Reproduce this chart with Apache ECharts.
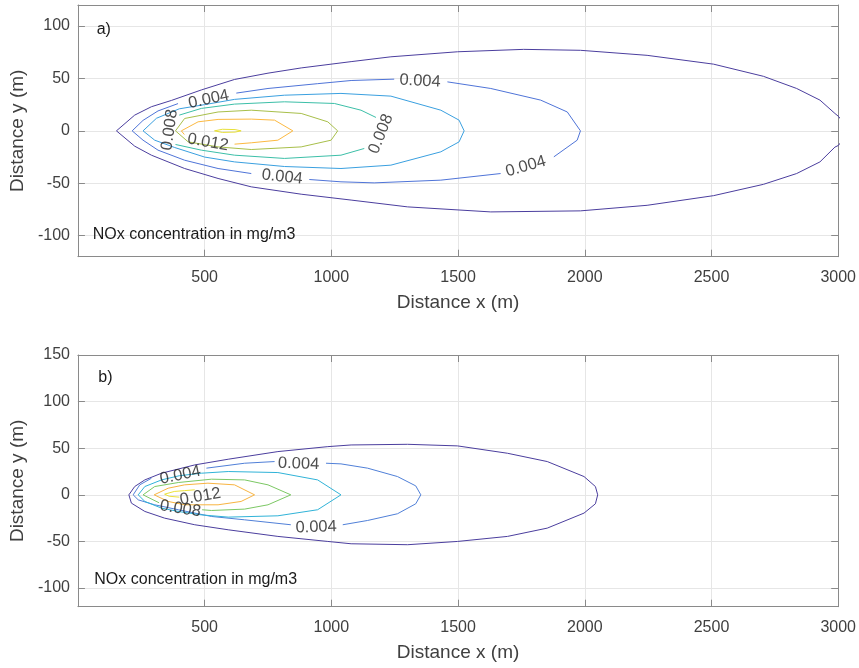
<!DOCTYPE html>
<html>
<head>
<meta charset="utf-8">
<script src="https://cdn.jsdelivr.net/npm/echarts@6/dist/echarts.min.js"></script>
<style>
html,body{margin:0;padding:0;background:#fff;}
#chart{width:859px;height:668px;}
</style>
</head>
<body>
<div id="chart"></div>
<script>
// ---------- data ----------
const xTicks = [500, 1000, 1500, 2000, 2500, 3000];
const yTicksTop = [-100, -50, 0, 50, 100];
const yTicksBottom = [-100, -50, 0, 50, 100, 150];
const levelsTop = ['0.002', '0.004', '0.006', '0.008', '0.010', '0.012', '0.014'];
const levelsBottom = ['0.002', '0.004', '0.006', '0.008', '0.010', '0.012'];

// Panel a) contour lines, [x, y] in metres; null = gap where the label sits
const topC002 = [[152,0],[224,15],[290,23],[369,29],[487,39],[618,49],[750,55],[881,60],[1078,66],[1235,70.6],[1498,75.4],[1759,77.7],[1983,76.8],[2246,72],[2508,63.6],[2705,52],[2836,40.4],[2928,29.3],[2987,16.6],[3000,14],[3050,0],[3000,-14],[2987,-15.5],[2928,-29.6],[2836,-40.7],[2705,-51],[2508,-61.8],[2246,-71],[1983,-76.3],[1629,-77.3],[1301,-72.5],[1078,-66],[881,-60.4],[684,-53.4],[553,-45.4],[421,-35.9],[290,-23.2],[224,-14.6],[152,0]];
const topC004 = [[214,0],[257,10],[316,19],[395,26],null,[625,36],[750,40.4],[946,45],[1078,48],[1248,49.3],null,[1458,46.7],[1629,40.4],[1826,29.3],[1931,18],[1983,0],[1970,-8.9],[1878,-24.8],null,[1668,-40.7],[1432,-47],[1169,-49.6],[1038,-48.6],[913,-46.4],null,[684,-40.7],[553,-35.9],[421,-28],[316,-18.4],[257,-8.9],[214,0]];
const topC006 = [[257,0],[310,12],[400,21],[500,25],[618,30],[815,34],[1038,35.7],[1235,33.1],[1432,19.7],[1504,10.2],[1524,0],[1504,-10.5],[1432,-20],[1235,-32.7],[1038,-35.9],[815,-34],[618,-29.6],[500,-25],[382,-15.9],[303,-8.9],[257,0]];
const topC008 = [[400,15],[487,21.4],[618,25.5],[815,27.7],[1012,26.1],[1117,19.7],[1176,12.8],null,[1130,-16.8],[1038,-23.2],[815,-26.3],[618,-23.2],[487,-18.4],[385,-13]];
const topC010 = [[385,0],[421,11.8],[553,18],[684,19.7],[881,16.6],[986,8.6],[1025,0],[999,-8.9],[881,-15.3],[684,-17.8],[553,-15.3],[435,-10.5],[385,0]];
const topC012 = [[420,-3.5],[408,0],[474,8.6],[553,10.9],[684,11.2],[776,10.2],[848,0],[789,-8.9],[684,-11.4],[618,-12.7]];
const topC014 = [[539,0],[570,1.5],[620,1.2],[644,0],[620,-1.2],[570,-1.5],[539,0]];
// Panel a) contour labels: [x, y, text, angle]
const topLabels = [[516,30,'0.004',12],[1350,47.4,'0.004',-3],[1767,-34,'0.004',16],[806,-44,'0.004',-6],[362,1,'0.008',82],[1196,-3,'0.008',68],[513,-11,'0.012',-10]];

// Panel b) contour lines
const botC002 = [[201,0],[224,8.9],[264,16],[330,23.2],[461,32.1],[593,38.2],[789,46.4],[986,51.7],[1078,53.5],[1301,54.2],[1498,52.5],[1695,44.6],[1852,35.7],[1997,19.6],[2042,8.9],[2051,0],[2042,-9.6],[1997,-19.6],[1852,-35.7],[1695,-44.6],[1498,-50],[1301,-53.5],[1078,-52.5],[986,-50],[789,-44.6],[593,-37.5],[461,-32.1],[342,-25],[264,-17.8],[211,-8.9],[201,0]];
const botC004 = [[218,0],[244,10.7],[290,17.8],null,[507,28.6],[658,33.9],[776,35.7],null,[979,33.9],[1038,33.2],[1143,28.6],[1261,19.6],[1333,9.6],[1353,0],[1333,-9.6],[1261,-20.3],[1143,-27.5],[1045,-32.1],null,[840,-32.1],[658,-26.8],[527,-23.2],[396,-16],[303,-10.7],[238,-5.4],[218,0]];
const botC006 = [[238,0],[264,8.9],[330,16],[400,20.5],[487,23.2],[593,25],[789,23.9],[946,16],[1038,0],[946,-16],[789,-22.5],[593,-23.9],[487,-21.5],[400,-18],[330,-14.3],[264,-7.1],[238,0]];
const botC008 = [[320,-8.5],[257,0],[303,8.9],[396,13.2],[527,16.8],[658,16],[750,10.7],[840,0],[750,-10.7],[658,-15.3],[527,-16.8],[490,-16]];
const botC010 = [[301,0],[356,7.1],[421,10.7],[513,12.5],[618,10.7],[697,0],[644,-7.1],[553,-10.7],[421,-10.7],[356,-7.1],[301,0]];
const botC012 = [[461,5.4],[420,4.5],[380,3.6],[342,0.7],[360,-1.5],[400,-2.5]];
const botLabels = [[404,21,'0.004',12],[871,33.2,'0.004',-2],[940,-34.8,'0.004',2],[404,-15,'0.008',-9],[483,-2,'0.012',10]];

// ---------- styles ----------
const colorsTop = ['#4b3e9e', '#4f74d8', '#3aa0e0', '#3cbfa8', '#a8bf4a', '#fcb941', '#e8e03a'];
const colorsBottom = ['#4b3e9e', '#5080d8', '#30b3d8', '#7cc864', '#f8b441', '#ece23a'];
const FONT = 'Liberation Sans, Arial, Helvetica, sans-serif';
const AXIS_C = '#8a8a8a';
const TEXT_C = '#404040';
const GRID_C = '#e6e6e6';

const topSets = [topC002, topC004, topC006, topC008, topC010, topC012, topC014];
const botSets = [botC002, botC004, botC006, botC008, botC010, botC012];

function segments(pts) {
  const out = []; let cur = [];
  pts.forEach(p => { if (p === null) { if (cur.length) out.push(cur); cur = []; } else cur.push(p); });
  if (cur.length) out.push(cur);
  return out;
}

const series = [];
function addContours(sets, colors, levels, xi, yi) {
  sets.forEach((pts, i) => {
    segments(pts).forEach(seg => {
      series.push({
        type: 'line', name: levels[i], xAxisIndex: xi, yAxisIndex: yi,
        data: seg, showSymbol: false, symbol: 'none', smooth: false, clip: true,
        lineStyle: { color: colors[i], width: 1 }, silent: true, animation: false, z: 3
      });
    });
  });
}
function addLabels(labels, xi, yi) {
  series.push({
    type: 'scatter', xAxisIndex: xi, yAxisIndex: yi, symbolSize: 0, silent: true, animation: false, z: 5,
    data: labels.map(l => ({
      value: [l[0], l[1]],
      label: { show: true, position: 'inside', formatter: l[2], rotate: l[3],
               fontSize: 16.5, fontFamily: FONT, color: '#222' }
    }))
  });
}
addContours(topSets, colorsTop, levelsTop, 0, 0);
addContours(botSets, colorsBottom, levelsBottom, 2, 2);
addLabels(topLabels, 0, 0);
addLabels(botLabels, 2, 2);

function xAxes(gi) {
  return [{
    gridIndex: gi, type: 'value', min: 0, max: 3000, interval: 500, position: 'bottom',
    name: 'Distance x (m)', nameLocation: 'middle', nameGap: 37,
    nameTextStyle: { fontSize: 19, fontFamily: FONT, color: TEXT_C },
    axisLine: { show: true, onZero: false, lineStyle: { color: AXIS_C, width: 1 } },
    axisTick: { show: true, inside: true, length: 7, lineStyle: { color: AXIS_C } },
    axisLabel: { fontSize: 16, fontFamily: FONT, color: TEXT_C, margin: 13,
                 formatter: v => (xTicks.indexOf(v) >= 0 ? String(v) : '') },
    splitLine: { show: true, lineStyle: { color: GRID_C, width: 1 } }
  }, {
    gridIndex: gi, type: 'value', min: 0, max: 3000, interval: 500, position: 'top',
    axisLine: { show: true, onZero: false, lineStyle: { color: AXIS_C, width: 1 } },
    axisTick: { show: true, inside: true, length: 7, lineStyle: { color: AXIS_C } },
    axisLabel: { show: false }, splitLine: { show: false }
  }];
}
function yAxes(gi, minV, maxV, ticks) {
  return [{
    gridIndex: gi, type: 'value', min: minV, max: maxV, position: 'left',
    name: 'Distance y (m)', nameLocation: 'middle', nameGap: 49, nameRotate: 90,
    nameTextStyle: { fontSize: 19, fontFamily: FONT, color: TEXT_C },
    axisLine: { show: true, onZero: false, lineStyle: { color: AXIS_C, width: 1 } },
    axisTick: { show: true, inside: true, length: 7, lineStyle: { color: AXIS_C }, customValues: ticks },
    axisLabel: { fontSize: 16, fontFamily: FONT, color: TEXT_C, margin: 8, customValues: ticks },
    splitLine: { show: true, lineStyle: { color: GRID_C, width: 1 } }
  }, {
    gridIndex: gi, type: 'value', min: minV, max: maxV, position: 'right',
    axisLine: { show: true, onZero: false, lineStyle: { color: AXIS_C, width: 1 } },
    axisTick: { show: true, inside: true, length: 7, lineStyle: { color: AXIS_C }, customValues: ticks },
    axisLabel: { show: false }, splitLine: { show: false }
  }];
}

const chart = echarts.init(document.getElementById('chart'), null, { renderer: 'canvas' });
chart.setOption({
  animation: false,
  backgroundColor: '#ffffff',
  grid: [
    { left: 76.5, top: 5, width: 762, height: 251.7, containLabel: false },
    { left: 76.5, top: 355, width: 762, height: 251.7, containLabel: false }
  ],
  xAxis: [...xAxes(0), ...xAxes(1)],
  yAxis: [...yAxes(0, -120, 120, yTicksTop), ...yAxes(1, -120, 150, yTicksBottom)],
  series: series,
  graphic: [
    { type: 'text', x: 96.7, y: 29.5, z: 10, style: { text: 'a)', font: '16px ' + FONT, fill: '#1a1a1a', verticalAlign: 'middle' } },
    { type: 'text', x: 92.7, y: 235, z: 10, style: { text: 'NOx concentration in mg/m3', font: '16px ' + FONT, fill: '#1a1a1a', verticalAlign: 'middle' } },
    { type: 'text', x: 98.3, y: 377.5, z: 10, style: { text: 'b)', font: '16px ' + FONT, fill: '#1a1a1a', verticalAlign: 'middle' } },
    { type: 'text', x: 94.3, y: 579.5, z: 10, style: { text: 'NOx concentration in mg/m3', font: '16px ' + FONT, fill: '#1a1a1a', verticalAlign: 'middle' } }
  ]
});
</script>
</body>
</html>
